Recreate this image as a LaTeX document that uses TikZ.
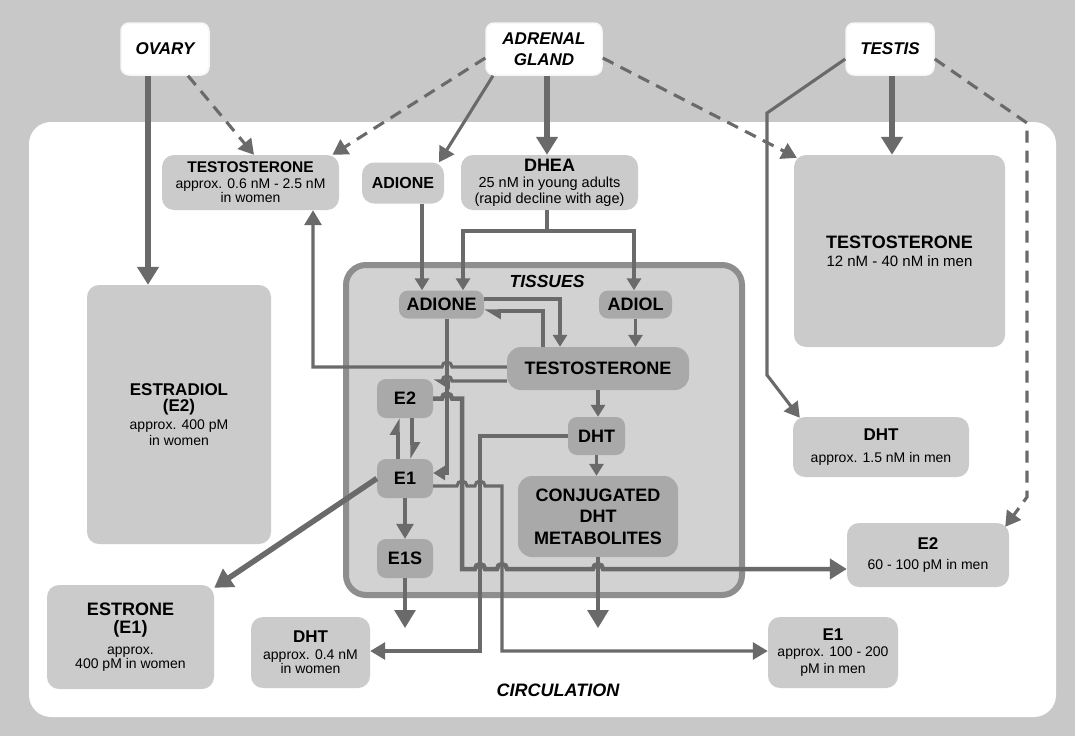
\documentclass[tikz,border=0pt]{standalone}
\usepackage{fontspec}
\setmainfont{Liberation Sans}
\usetikzlibrary{arrows.meta}
\definecolor{bg}{HTML}{C8C8C8}
\definecolor{cbox}{HTML}{CBCBCB}
\definecolor{tfill}{HTML}{D2D2D2}
\definecolor{tnode}{HTML}{A9A9A9}
\definecolor{tborder}{HTML}{8E8E8E}
\definecolor{lc}{HTML}{6A6A6A}
\newcommand\hd[1]{{\fontsize{17}{19}\selectfont\bfseries #1}}
\begin{document}
\begin{tikzpicture}[x=1pt,y=-1pt,
  src/.style={fill=white, draw=white!85!bg, line width=1.5pt, rounded corners=8pt, minimum width=88pt, minimum height=52pt, align=center, inner sep=2pt, font=\fontsize{17}{21}\selectfont\bfseries\itshape},
  cbx/.style={fill=cbox, rounded corners=12pt, align=center, inner sep=2pt, font=\fontsize{14}{14.5}\selectfont},
  tbx/.style={fill=tnode, rounded corners=9pt, align=center, inner sep=1pt, font=\fontsize{18}{21.5}\selectfont\bfseries},
  ln/.style={draw=lc, line width=3.1pt},
  thk/.style={draw=lc, line width=5.5pt},
  tip/.style={-{Triangle[length=15pt,width=17pt]}},
  btip/.style={-{Triangle[length=18pt,width=21pt]}},
  stip/.style={-{Triangle[length=12pt,width=14pt]}},
  hp/.style={-{Triangle[harpoon,length=14pt,width=16pt]}},
  dsh/.style={dash pattern=on 12pt off 8pt},
]
\useasboundingbox (0,0) rectangle (1075,736);
\fill[bg] (0,0) rectangle (1075,736);
\fill[white, rounded corners=22pt] (29,122) rectangle (1056,717);

% tissues container
\draw[line width=6pt, draw=tborder, fill=tfill, rounded corners=20pt] (346,265) rectangle (742,595);
\node[font=\fontsize{17.5}{20}\selectfont\bfseries\itshape] (tissues) at (547,281) {TISSUES};

% sources
\node[src] (ovary) at (165,49) {OVARY};
\node[src, minimum width=116pt] (adrenal) at (544,49) {ADRENAL\\GLAND};
\node[src] (testis) at (890,49) {TESTIS};

% circulation boxes
\node[cbx, minimum width=177pt, minimum height=55pt] (testoW) at (250.5,182.5)
  {{\fontsize{15.5}{17}\selectfont\bfseries TESTOSTERONE}\\[1pt]approx. 0.6 nM - 2.5 nM\\in women};
\node[cbx, minimum width=82pt, minimum height=41pt] (adioneC) at (403,183)
  {{\fontsize{16}{18}\selectfont\bfseries ADIONE}};
\node[cbx, minimum width=177pt, minimum height=55pt, font=\fontsize{14.5}{16}\selectfont] (dhea) at (549.5,182.5)
  {{\fontsize{18}{19}\selectfont\bfseries DHEA}\\25 nM in young adults\\(rapid decline with age)};
\node[cbx, minimum width=184pt, minimum height=259pt] (estradiol) at (179,414.5)
  {\hd{ESTRADIOL}\\[2pt]\hd{(E2)}\\[3pt]approx. 400 pM\\[2pt]in women};
\node[cbx, minimum width=211pt, minimum height=192pt, font=\fontsize{15}{16}\selectfont] (testoM) at (899.5,251)
  {{\fontsize{18}{20}\selectfont\bfseries TESTOSTERONE}\\[2pt]12 nM - 40 nM in men};
\node[cbx, minimum width=176pt, minimum height=60pt] (dhtM) at (881,447)
  {\hd{DHT}\\[7pt]approx. 1.5 nM in men};
\node[cbx, minimum width=162pt, minimum height=64pt] (e2M) at (928,555)
  {\hd{E2}\\[5pt]60 - 100 pM in men};
\node[cbx, minimum width=130pt, minimum height=71pt] (e1M) at (833,652.5)
  {\hd{E1}\\[2pt]approx. 100 - 200\\[2pt]pM in men};
\node[cbx, minimum width=167pt, minimum height=104pt] (estrone) at (130.5,637)
  {{\fontsize{18}{20}\selectfont\bfseries ESTRONE}\\[4pt]{\fontsize{18}{20}\selectfont\bfseries (E1)}\\[6pt]approx.\\400 pM in women};
\node[cbx, minimum width=119pt, minimum height=71pt] (dhtW) at (310.5,652.5)
  {\hd{DHT}\\[2pt]approx. 0.4 nM\\in women};
\node[font=\fontsize{18}{20}\selectfont\bfseries\itshape] (circ) at (558,690) {CIRCULATION};

% tissue nodes
\node[tbx, minimum width=85pt, minimum height=28pt] (adioneT) at (441.5,304.5) {ADIONE};
\node[tbx, minimum width=73pt, minimum height=28pt] (adiol) at (635.5,304.5) {ADIOL};
\node[tbx, minimum width=182pt, minimum height=43pt, rounded corners=14pt] (testoT) at (598,368.5) {TESTOSTERONE};
\node[tbx, minimum width=56pt, minimum height=39pt] (e2T) at (405,398.5) {E2};
\node[tbx, minimum width=56pt, minimum height=39pt] (e1T) at (405,478.5) {E1};
\node[tbx, minimum width=56pt, minimum height=39pt] (e1s) at (405,558.5) {E1S};
\node[tbx, minimum width=57pt, minimum height=38pt] (dhtT) at (596.5,436) {DHT};
\node[tbx, minimum width=160pt, minimum height=81pt, rounded corners=14pt] (conj) at (598,516.5) {CONJUGATED\\DHT\\METABOLITES};

\coordinate (dj) at (547,231);
\coordinate (e1sEnd) at (405,628);
\coordinate (conjEnd) at (598,628);

% from the glands
\draw[thk,btip] ([xshift=-17pt]ovary.south) -- ([xshift=-17pt]ovary.south |- estradiol.north);
\draw[ln,dsh,tip] ([xshift=23pt]ovary.south) -- ([xshift=3.5pt]testoW.north);
\draw[ln,dsh,tip] ([yshift=-9pt]adrenal.west) -- ([xshift=82pt]testoW.north);
\draw[ln,tip] ([xshift=-51pt]adrenal.south) -- ([xshift=36pt]adioneC.north);
\draw[thk,btip] ([xshift=3pt]adrenal.south) -- ([xshift=3pt]adrenal.south |- dhea.north);
\draw[ln,dsh,tip] ([yshift=-9pt]adrenal.east) -- ([xshift=3pt,yshift=-3pt]testoM.north west);
\draw[thk,btip] ([xshift=2pt]testis.south) -- ([xshift=2pt]testis.south |- testoM.north);
\draw[ln,tip] ([yshift=-10pt]testis.west) -- (767,113) -- (767,375) -- ([xshift=7pt,yshift=-1pt]dhtM.north west);
\draw[ln,dsh,tip] ([yshift=-10pt]testis.east) -- (1027,123) -- (1027,497) -- ([xshift=-4pt,yshift=-4pt]e2M.north east);

% DHEA branch and ADIONE entry
\draw[ln] ([xshift=-2.5pt]dhea.south) -- (dj);
\draw[ln,stip] (dj) -| ([xshift=21.5pt]adioneT.north);
\draw[ln,stip] (dj) -| ([xshift=-1.5pt]adiol.north);
\draw[ln,stip] ([xshift=19pt]adioneC.south) -- ([xshift=19pt]adioneC.south |- adioneT.north);

% inside tissues
\draw[ln,stip] ([yshift=5.5pt]adioneT.east) -| ([xshift=-38pt]testoT.north);
\draw[ln,hp] ([xshift=-55pt]testoT.north) |- ([yshift=-6.5pt]adioneT.east);
\draw[ln,stip] (adiol.south) -- (adiol.south |- testoT.north);
\draw[ln,stip] ([xshift=5.5pt]adioneT.south) |- ([yshift=5.5pt]e1T.east);
\draw[ln,hp] ([xshift=-7pt]e1T.north) -- ([xshift=-7pt]e2T.south);
\draw[ln,hp] ([xshift=7pt]e2T.south) -- ([xshift=7pt]e1T.north);
\draw[ln,stip] (testoT.south) -- (testoT.south |- dhtT.north);
\draw[ln,stip] (dhtT.south) -- (dhtT.south |- conj.north);
\draw[ln,tip] (e1T.south) -- (e1s.north);

% testosterone to circulation and to E2
\draw[ln,tip] ([yshift=1.5pt]testoT.west) -- (452,367) arc[start angle=0,end angle=180,radius=5pt] -- (313,367) -- ([xshift=62.5pt]testoW.south);
\draw[ln,hp] ([yshift=-12.5pt]testoT.west) -- (452,381) arc[start angle=0,end angle=180,radius=5pt] -- ([yshift=-2pt]e2T.north east);

% outputs
\draw[ln,tip] (dhtT.west) -| (480,651) -- ([yshift=1.5pt]dhtW.east);
\draw[ln,tip] ([yshift=-7.5pt]e1T.east) -- (457,486) arc[start angle=180,end angle=0,radius=5pt] -- (475,486) arc[start angle=180,end angle=0,radius=5pt] -- (502,486) -- (502,651) -- ([yshift=1.5pt]e1M.west);
\draw[draw=lc, line width=4.5pt, -{Triangle[length=17pt,width=20pt]}] (e2T.east) -- (442,398.5) arc[start angle=180,end angle=0,radius=5pt] -- (462,398.5) -- (462,569) -- (475,569) arc[start angle=180,end angle=0,radius=5pt] -- (497,569) arc[start angle=180,end angle=0,radius=5pt] -- (593,569) arc[start angle=180,end angle=0,radius=5pt] -- ([yshift=-14pt]e2M.west);
\draw[thk,btip] (e1T.west) -- ([yshift=-3pt]estrone.north east);
\draw[ln,btip] (e1s.south) -- (e1sEnd);
\draw[ln,btip] (conj.south) -- (conjEnd);
\end{tikzpicture}
\end{document}
